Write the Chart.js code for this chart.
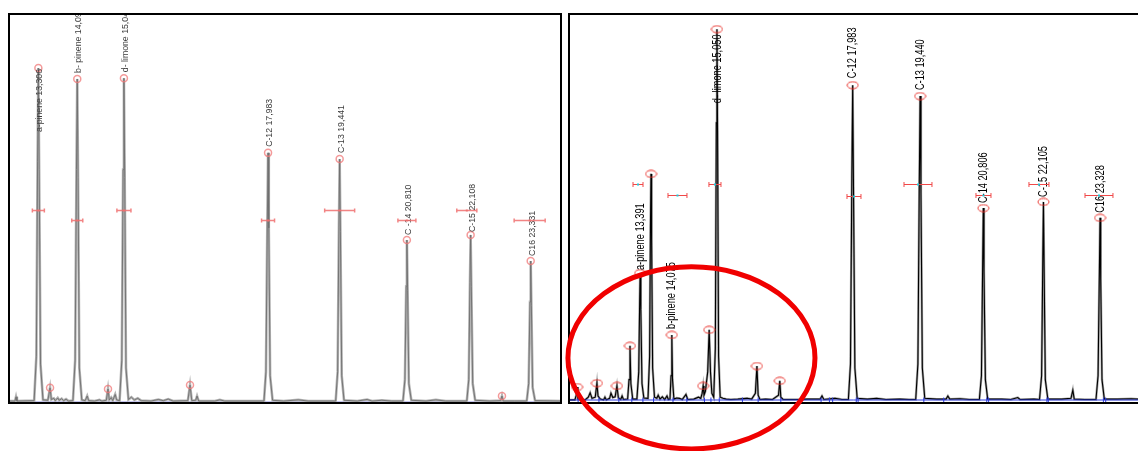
<!DOCTYPE html>
<html>
<head>
<meta charset="utf-8">
<script src="https://cdn.jsdelivr.net/npm/chart.js@4/dist/chart.umd.min.js"></script>
<style>
  html, body { margin: 0; padding: 0; background: #fff; overflow: hidden; }
  #wrap { position: relative; width: 1138px; height: 451px; }
  canvas { position: absolute; top: 0; }
  #left { left: 0; }
  #right { left: 562px; }
</style>
</head>
<body>
<div id="wrap">
  <canvas id="left" width="570" height="451"></canvas>
  <canvas id="right" width="576" height="451"></canvas>
</div>
<script>
// ---------- Run A (left): retention time in min, detector response (% of full scale) ----------
const leftTrace = [
  [12.708,0.5],[12.83,0.5],[12.851,1.6],[12.87,0.5],
  [13.22,0.6],[13.265,12],[13.29,62],[13.306,86.1],[13.322,60],[13.35,10],[13.40,0.8],
  [13.50,0.7],[13.544,3.9],[13.57,0.9],[13.62,1.2],[13.65,0.6],[13.70,1.3],[13.73,0.7],[13.78,1.1],[13.82,0.6],[13.87,1.0],[13.92,0.5],
  [14.01,0.6],[14.055,11],[14.082,60],[14.098,83.3],[14.114,58],[14.14,9],[14.19,0.8],
  [14.26,0.6],[14.30,1.8],[14.33,0.6],[14.45,0.5],[14.55,0.8],[14.60,0.5],
  [14.69,0.7],[14.724,3.6],[14.75,0.8],[14.79,1.4],[14.82,0.6],[14.87,2.2],[14.90,0.8],
  [14.96,0.6],[15.005,11],[15.032,60],[15.048,83.5],[15.064,58],[15.09,9],[15.14,0.9],
  [15.20,1.5],[15.26,0.8],[15.33,1.2],[15.40,0.6],[15.60,0.5],[15.75,0.9],[15.85,0.6],[15.95,1.0],[16.05,0.5],
  [16.35,0.6],[16.394,4.6],[16.43,0.6],[16.51,0.7],[16.537,1.8],[16.57,0.5],
  [16.90,0.5],[17.00,0.8],[17.10,0.5],
  [17.90,0.5],[17.94,8],[17.968,46],[17.983,64.3],[17.998,45],[18.025,7],[18.075,0.7],
  [18.30,0.5],[18.60,0.8],[18.80,0.5],
  [19.36,0.5],[19.40,8],[19.426,45],[19.441,62.7],[19.456,44],[19.483,7],[19.53,0.7],
  [19.80,0.5],[20.00,0.9],[20.10,0.5],[20.30,0.7],[20.50,0.5],
  [20.73,0.5],[20.77,6],[20.796,30],[20.810,41.9],[20.824,29],[20.85,5],[20.90,0.7],
  [21.20,0.5],[21.40,0.8],[21.60,0.5],
  [22.03,0.5],[22.07,6],[22.094,31],[22.108,43.2],[22.122,30],[22.15,5],[22.20,0.7],
  [22.50,0.5],[22.72,0.6],[22.746,1.8],[22.77,0.5],[23.00,0.5],
  [23.25,0.5],[23.29,5],[23.317,26],[23.331,36.5],[23.345,25],[23.37,4],[23.42,0.6],
  [23.948,0.5]
];
const leftRange = [12.708, 23.948];
const leftPeakNames = ['a-pinene','b- pinene','d- limone','C-12','C-13','C -14','C-15','C16'];
const leftPeakTimes = [13.306, 14.098, 15.048, 17.983, 19.441, 20.810, 22.108, 23.331];
const leftPeakHeights = [86.1, 83.3, 83.5, 64.3, 62.7, 41.9, 43.2, 36.5];
const leftMinorTimes = [13.544, 14.724, 16.394, 22.746];
const leftMinorHeights = [3.9, 3.6, 4.6, 1.8];
const leftBarCenters = [13.306, 14.098, 15.048, 17.983, 19.441, 20.810, 22.030, 23.310];
const leftBarLevels = [49.6, 47.0, 49.6, 47.0, 49.6, 47.0, 49.6, 47.0];
const leftBarHalf = [0.122, 0.112, 0.143, 0.132, 0.305, 0.183, 0.204, 0.316];

// ---------- Run B (right) ----------
const rightTrace = [
  [11.853,0.8],[11.98,0.8],[12.01,2.0],[12.026,4.1],[12.045,1.0],[12.10,0.9],[12.20,0.8],[12.27,1.5],[12.31,2.6],[12.35,1.2],
  [12.42,1.5],[12.457,5.1],[12.48,1.8],[12.53,1.0],[12.60,0.8],[12.63,1.5],[12.66,0.8],[12.73,1.2],[12.76,2.5],[12.80,1.4],
  [12.85,1.6],[12.889,4.4],[12.92,1.3],[12.97,0.9],[13.00,1.8],[13.03,0.9],[13.12,1.0],[13.15,6],[13.171,14.7],[13.19,5],[13.23,1.0],
  [13.32,1.0],[13.36,8],[13.38,26],[13.391,33.4],[13.405,24],[13.43,5],[13.47,1.3],
  [13.56,1.2],[13.595,12],[13.613,45],[13.625,58.9],[13.638,42],[13.66,9],[13.70,1.5],
  [13.75,1.2],[13.78,2.0],[13.82,1.0],[13.87,1.6],[13.92,0.9],[13.97,1.8],[14.00,0.9],
  [14.035,1.0],[14.058,7],[14.075,17.5],[14.09,6],[14.12,1.0],
  [14.18,1.3],[14.24,1.2],[14.30,0.9],[14.38,2.2],[14.42,0.9],[14.55,1.0],[14.65,1.5],[14.70,1.2],[14.73,2.5],[14.752,4.4],[14.77,2.0],
  [14.80,3],[14.85,8],[14.882,18.8],[14.91,8],[14.94,2.5],
  [14.98,1.5],[15.015,14],[15.037,72],[15.050,96.1],[15.063,70],[15.085,12],[15.12,1.5],
  [15.18,1.2],[15.25,1.0],[15.35,0.9],[15.50,1.0],[15.70,1.2],[15.80,1.0],[15.88,2.5],[15.914,9.5],[15.94,2.0],[15.98,0.9],
  [16.10,1.0],[16.25,0.9],[16.38,2.0],[16.408,5.7],[16.43,1.5],[16.48,0.9],[16.80,0.9],[17.00,1.0],[17.10,1.0],[17.28,1.0],[17.32,1.8],[17.36,0.9],
  [17.60,1.2],[17.75,0.9],
  [17.89,0.9],[17.935,10],[17.965,58],[17.983,81.7],[18.00,56],[18.03,9],[18.08,1.2],
  [18.30,1.0],[18.50,1.2],[18.70,0.9],[19.00,1.0],[19.20,0.9],
  [19.345,0.9],[19.392,10],[19.422,56],[19.440,78.9],[19.458,54],[19.488,9],[19.54,1.2],
  [19.80,1.0],[20.00,1.0],[20.04,1.8],[20.08,1.0],[20.30,1.1],[20.50,0.9],
  [20.72,0.9],[20.765,7],[20.792,36],[20.806,50.1],[20.82,34],[20.85,6],[20.90,1.0],
  [21.20,1.0],[21.40,0.9],[21.55,1.4],[21.60,0.9],[21.90,1.0],
  [22.02,0.9],[22.065,7],[22.091,37],[22.105,51.7],[22.119,35],[22.145,6],[22.20,1.0],
  [22.50,1.0],[22.70,1.2],[22.74,3.3],[22.77,1.0],[23.00,0.9],
  [23.24,0.9],[23.285,7],[23.314,34],[23.328,47.6],[23.342,32],[23.37,6],[23.42,1.0],
  [23.70,1.0],[24.00,1.1],[24.148,1.0]
];
const rightRange = [11.853, 24.148];
const rightPeakNames = ['a-pinene','b-pinene','d- limone','C-12','C-13','C-14','C-15','C16'];
const rightPeakTimes = [13.391, 14.075, 15.050, 17.983, 19.440, 20.806, 22.105, 23.328];
const rightPeakHeights = [33.4, 17.5, 96.1, 81.7, 78.9, 50.1, 51.7, 47.6];
const rightMinorTimes = [12.026, 12.457, 12.889, 13.171, 13.625, 14.752, 14.882, 15.914, 16.408];
const rightMinorHeights = [4.1, 5.1, 4.4, 14.7, 58.9, 4.4, 18.8, 9.5, 5.7];
const rightBarCenters = [13.344, 14.197, 15.007, 18.011, 19.394, 20.809, 22.008, 23.305];
const rightBarLevels = [56.3, 53.5, 56.3, 53.2, 56.3, 53.5, 56.3, 53.5];
const rightBarHalf = [0.108, 0.205, 0.130, 0.151, 0.302, 0.162, 0.216, 0.302];
const rightBaseMarks = [12.05, 12.5, 12.93, 13.21, 13.45, 13.68, 14.10, 14.40, 14.78, 14.92, 15.10, 15.60, 15.94, 16.43,
  17.30, 17.48, 17.55, 18.06, 18.10, 19.52, 19.95, 20.88, 20.92, 22.18, 22.21, 23.40, 23.45];
const baselineLevel = 0.77;

// ---------- drawing helpers ----------
function fmtTime(t) { return t.toFixed(3).replace('.', ','); }
function pts(ts, vs) { return ts.map((t, i) => ({ x: t, y: vs[i] })); }

// Small hollow ellipse used as a peak-apex marker on run B
function ellipseMarker() {
  const c = document.createElement('canvas');
  c.width = 13; c.height = 9;
  const g = c.getContext('2d');
  g.strokeStyle = '#e8302a'; g.lineWidth = 1;
  g.beginPath(); g.ellipse(6.5, 4.5, 5.5, 3.5, 0, 0, Math.PI * 2); g.stroke();
  return c;
}

const framePlugin = {
  id: 'frame',
  afterDraw(chart, args, o) {
    const { ctx, chartArea: a } = chart;
    ctx.save();
    ctx.strokeStyle = '#000'; ctx.lineWidth = 2;
    ctx.beginPath();
    if (o.closed) {
      ctx.rect(a.left, a.top, a.right - a.left, a.bottom - a.top);
    } else {
      ctx.moveTo(a.right + 2, a.top); ctx.lineTo(a.left, a.top);
      ctx.lineTo(a.left, a.bottom); ctx.lineTo(a.right + 2, a.bottom);
    }
    ctx.stroke();
    ctx.restore();
  }
};

const peakLabelPlugin = {
  id: 'peakLabels',
  afterDatasetsDraw(chart, args, o) {
    const { ctx, chartArea: a, scales: { x, y } } = chart;
    ctx.save();
    ctx.beginPath(); ctx.rect(a.left, a.top - 1, a.right - a.left, a.bottom - a.top); ctx.clip();
    ctx.fillStyle = o.color;
    ctx.font = o.font;
    ctx.textBaseline = 'middle';
    ctx.textAlign = 'left';
    o.names.forEach((n, i) => {
      const px = x.getPixelForValue(o.times[i]);
      const py = y.getPixelForValue(o.heights[i]) - o.shift[i];
      ctx.save();
      ctx.translate(px + o.dx, py);
      ctx.rotate(-Math.PI / 2);
      ctx.scale(o.squeeze, 1);
      ctx.fillText(n + ' ' + fmtTime(o.times[i]), 0, 0);
      ctx.restore();
    });
    ctx.restore();
  }
};

const barPlugin = {
  id: 'retentionBars',
  afterDatasetsDraw(chart, args, o) {
    const { ctx, scales: { x, y } } = chart;
    ctx.save();
    ctx.strokeStyle = o.color; ctx.lineWidth = o.width;
    o.centers.forEach((c, i) => {
      const x0 = x.getPixelForValue(c - o.half[i]);
      const x1 = x.getPixelForValue(c + o.half[i]);
      const py = Math.round(y.getPixelForValue(o.levels[i])) + 0.5;
      ctx.beginPath();
      ctx.moveTo(x0, py); ctx.lineTo(x1, py);
      ctx.moveTo(x0, py - o.cap); ctx.lineTo(x0, py + o.cap);
      ctx.moveTo(x1, py - o.cap); ctx.lineTo(x1, py + o.cap);
      ctx.stroke();
      ctx.fillStyle = o.mid;
      ctx.fillRect(x.getPixelForValue(c) - 1, py - 1, 2, 2);
    });
    ctx.restore();
  }
};

const ringPlugin = {
  id: 'ring',
  afterDraw(chart, args, o) {
    if (!o.show) return;
    const { ctx, scales: { x, y } } = chart;
    const cx = x.getPixelForValue(o.t);
    const cy = y.getPixelForValue(o.v);
    const rx = x.getPixelForValue(o.t + o.dt) - cx;
    const ry = cy - y.getPixelForValue(o.v + o.dv);
    ctx.save();
    ctx.strokeStyle = '#f00000'; ctx.lineWidth = 5;
    ctx.beginPath(); ctx.ellipse(cx, cy, rx, ry, 0, 0, Math.PI * 2); ctx.stroke();
    ctx.restore();
  }
};

function baseOptions(range, pad) {
  return {
    responsive: false,
    animation: false,
    events: [],
    layout: { padding: pad, autoPadding: false },
    scales: {
      x: { type: 'linear', min: range[0], max: range[1], display: false },
      y: { type: 'linear', min: 0, max: 100, display: false }
    },
    plugins: { legend: { display: false }, tooltip: { enabled: false } }
  };
}

// ---------- Run A ----------
const optA = baseOptions(leftRange, { left: 9, right: 9, top: 14, bottom: 48 });
optA.plugins.frame = { closed: true };
optA.plugins.peakLabels = {
  names: leftPeakNames, times: leftPeakTimes, heights: leftPeakHeights,
  shift: [-64, 6, 6, 6, 6, 5, 3, 5], dx: 1.5, squeeze: 0.97,
  font: '9px "Liberation Sans", Arial, sans-serif', color: '#3c3c3c'
};
optA.plugins.retentionBars = {
  centers: leftBarCenters, levels: leftBarLevels, half: leftBarHalf,
  color: 'rgba(240,110,110,0.85)', width: 1.5, cap: 2, mid: 'rgba(240,110,110,0.85)'
};
optA.plugins.ring = { show: false };

new Chart(document.getElementById('left'), {
  type: 'line',
  data: {
    datasets: [
      { data: [{ x: leftRange[0], y: 0.35 }, { x: leftRange[1], y: 0.35 }], borderColor: 'rgba(70,70,200,0.35)',
        borderWidth: 1, pointRadius: 0, order: 4 },
      { data: leftTrace.map(p => ({ x: p[0], y: p[1] })), borderColor: '#b4b4b4', borderWidth: 2.6,
        pointRadius: 0, tension: 0, order: 3 },
      { data: leftTrace.map(p => ({ x: p[0], y: p[1] })), borderColor: '#6e6e6e', borderWidth: 0.9,
        pointRadius: 0, tension: 0, order: 2 },
      { type: 'scatter', data: pts(leftPeakTimes.concat(leftMinorTimes), leftPeakHeights.concat(leftMinorHeights)),
        pointStyle: 'circle', pointRadius: 3.5, borderColor: 'rgba(240,120,120,0.75)', borderWidth: 1.5,
        backgroundColor: 'rgba(0,0,0,0)', order: 1 }
    ]
  },
  options: optA,
  plugins: [framePlugin, peakLabelPlugin, barPlugin, ringPlugin]
});

// ---------- Run B ----------
const optB = baseOptions(rightRange, { left: 7, right: 0, top: 14, bottom: 48 });
optB.plugins.frame = { closed: false };
optB.plugins.peakLabels = {
  names: rightPeakNames, times: rightPeakTimes, heights: rightPeakHeights,
  shift: [3, 6, -74, 7, 6, 5, 5, 5], dx: 0, squeeze: 0.71,
  font: '13px "Liberation Sans", Arial, sans-serif', color: '#000'
};
optB.plugins.retentionBars = {
  centers: rightBarCenters, levels: rightBarLevels, half: rightBarHalf,
  color: '#f04848', width: 1, cap: 2.5, mid: '#22c8d8'
};
optB.plugins.ring = { show: true, t: 14.499, v: 11.6, dt: 2.669, dv: 23.4 };

const mark = ellipseMarker();
new Chart(document.getElementById('right'), {
  type: 'line',
  data: {
    datasets: [
      { data: rightTrace.map(p => ({ x: p[0], y: p[1] })), borderColor: '#a6a6a6', borderWidth: 2.4,
        pointRadius: 0, tension: 0, order: 5 },
      { data: rightTrace.map(p => ({ x: p[0], y: p[1] })), borderColor: '#000', borderWidth: 1.1,
        pointRadius: 0, tension: 0, order: 4 },
      { data: [{ x: rightRange[0], y: baselineLevel }, { x: rightRange[1], y: baselineLevel }], borderColor: '#2a3adf',
        borderWidth: 1, pointRadius: 0, order: 3 },
      { type: 'scatter', data: rightBaseMarks.map(t => ({ x: t, y: baselineLevel })), pointStyle: 'line',
        rotation: 90, pointRadius: 2.5, borderColor: '#2a3adf', borderWidth: 1, order: 2 },
      { type: 'scatter', data: pts(rightPeakTimes.concat(rightMinorTimes), rightPeakHeights.concat(rightMinorHeights)),
        pointStyle: mark, pointRadius: 5, order: 1 }
    ]
  },
  options: optB,
  plugins: [framePlugin, peakLabelPlugin, barPlugin, ringPlugin]
});
</script>
</body>
</html>
